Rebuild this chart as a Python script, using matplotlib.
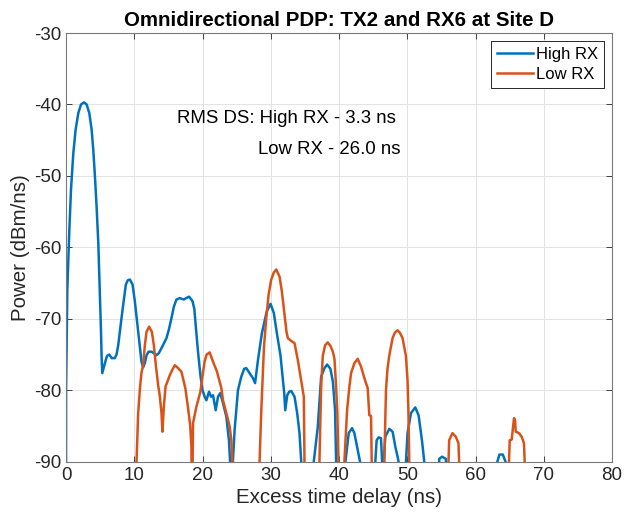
import numpy as np
import matplotlib
matplotlib.use('Agg')
import matplotlib.pyplot as plt

plt.rcParams['font.family'] = ['Liberation Sans', 'DejaVu Sans']
plt.rcParams['axes.unicode_minus'] = False

# Power delay profile samples (delay in ns, power in dBm/ns); -100 marks the noise floor between lobes
high_rx_delay = [0, 0.01, 0.19, 0.49, 0.73, 1.07, 1.41, 1.80, 2.19, 2.63, 3.02, 3.41, 3.75, 3.99, 4.24,
                 4.48, 4.73, 4.97, 5.12, 5.22, 5.31, 5.70, 6.0, 6.33, 6.7, 7.16, 7.4, 7.65, 8.0, 8.38,
                 8.77, 9.05, 9.36, 9.75, 10.09, 10.58, 11.06, 11.3, 11.55, 11.8, 12.1, 12.53, 13.0, 13.26,
                 13.6, 13.99, 14.35, 14.72, 15.1, 15.45, 15.8, 16.18, 16.67, 17.25, 17.6, 18.03, 18.52,
                 18.8, 19.0, 19.34, 19.69, 20.0, 20.32, 20.57, 20.95, 21.25, 21.54, 21.93, 22.27, 22.6,
                 23.0, 23.49, 23.87, 24.07, 24.2,
                 24.35, 24.46, 24.7, 25.19, 25.68, 26.1, 26.41, 26.9, 27.38, 27.7, 28.12, 28.7, 29.4,
                 29.97, 30.45, 30.94, 31.42, 31.75, 31.98, 32.12, 32.41, 32.7, 33.0, 33.48, 33.87, 34.21,
                 34.45, 34.55,
                 36.2, 36.3, 36.89, 37.38, 37.87, 38.25, 38.74, 39.1, 39.42, 39.57, 39.65,
                 40.85, 40.94, 41.42, 41.91, 42.25, 42.74, 43.08, 43.15,
                 45.25, 45.32, 45.51, 45.8, 46.15, 46.3, 46.5, 46.78, 47.37, 47.85, 48.25, 48.58, 48.83, 48.9,
                 49.75, 49.81, 50.04, 50.54, 51.17, 51.66, 52.15, 52.49, 52.55,
                 54.6, 54.68, 55.1, 55.66, 55.75,
                 63.1, 63.2, 63.5, 64.0, 64.4, 64.5, 80]
high_rx_power = [-100, -80, -65.9, -57.5, -51.9, -46.8, -43.5, -41.2, -40.0, -39.7, -40.0, -41.2, -43.5, -46.3, -50.1,
                 -54.3, -59.4, -66.9, -71.6, -75.5, -77.6, -76.2, -75.2, -75.0, -75.5, -75.5, -75.0, -73.7, -70.9, -68.0,
                 -65.2, -64.6, -64.5, -65.2, -67.6, -71.8, -76.0, -76.8, -76.2, -75.1, -74.6, -74.6, -74.9, -75.1,
                 -74.8, -74.1, -73.4, -72.7, -71.4, -69.9, -68.3, -67.3, -67.1, -67.3, -67.1, -66.9, -67.5,
                 -68.6, -70.9, -74.6, -77.9, -80.0, -80.9, -81.4, -80.2, -80.9, -80.7, -82.8, -80.9, -80.4,
                 -81.8, -83.7, -87.0, -90.5, -100,
                 -100, -89.8, -85.6, -80.0, -78.1, -77.0, -76.9, -77.6, -78.3, -79.0, -75.8, -72.0, -69.0,
                 -67.9, -69.2, -72.3, -75.1, -78.2, -80.5, -82.8, -80.7, -80.2, -80.1, -80.9, -83.2, -86.0,
                 -89.8, -100,
                 -100, -90, -85.1, -78.1, -76.9, -76.4, -77.0, -78.8, -82.8, -89.8, -100,
                 -100, -90, -86.0, -85.3, -86.0, -88.4, -90, -100,
                 -100, -90, -87.0, -86.6, -86.7, -89.8, -91, -86.5, -85.4, -85.8, -87.9, -89.3, -90.5, -100,
                 -100, -90, -86.0, -83.2, -82.4, -83.5, -87.0, -90, -100,
                 -100, -89.6, -89.3, -89.6, -100,
                 -100, -90, -89.0, -89.0, -90, -100, -100]

low_rx_delay = [0, 10.25, 10.33, 10.57, 10.85, 11.06, 11.3, 11.55, 11.8, 12.18, 12.57, 12.87, 13.16, 13.5,
                13.74, 13.99, 14.13, 14.33, 14.58, 15.2, 15.54, 15.94, 16.42, 16.91, 17.25, 17.5, 17.88,
                18.18, 18.38, 18.45, 18.55, 18.61, 19.1, 19.69, 20.0, 20.3, 20.6, 21.05, 21.54, 22.12,
                22.5, 22.76, 23.0, 23.49, 23.98, 24.22, 24.36, 24.45,
                28.3, 28.36, 28.61, 29.0, 29.34, 29.68, 30.07, 30.45, 30.8, 31.29, 31.63, 32.02, 32.3,
                32.5, 33.0, 33.48, 33.97, 34.45, 34.84, 34.94, 35.0,
                37.05, 37.13, 37.38, 37.62, 37.96, 38.35, 38.75, 39.1, 39.33, 39.57, 39.75, 39.91, 40.0,
                40.7, 40.79, 41.18, 41.52, 41.77, 42.25, 42.74, 43.23, 43.71, 44.2, 44.44, 44.69, 44.79, 44.85,
                46.55, 46.64, 46.88, 47.1, 47.37, 47.85, 48.2, 48.58, 48.95, 49.31, 49.8, 50.04, 50.19,
                50.29, 50.35,
                55.95, 56.04, 56.14, 56.62, 57.11, 57.5, 57.6, 57.7,
                64.85, 64.91, 65.01, 65.3, 65.5, 65.64, 65.79, 65.89, 66.37, 66.76, 67.1, 67.2, 67.3, 80]
low_rx_power = [-100, -100, -90, -83.2, -79.5, -77.5, -76.5, -73.7, -71.8, -71.1, -71.8, -73.7, -76.5, -79.3,
                -80.8, -83.2, -85.8, -82.3, -79.5, -77.9, -77.2, -76.5, -76.9, -77.4, -78.8, -79.8, -82.5,
                -84.8, -88, -100, -90, -84.6, -82.3, -80.2, -78.0, -76.0, -75.0, -74.7, -76.0, -77.4,
                -78.8, -79.7, -81.4, -83.2, -85.1, -87.0, -90, -100,
                -100, -90, -82.8, -74.0, -69.9, -66.6, -64.5, -63.5, -63.1, -64.1, -66.2, -69.5, -71.8,
                -72.7, -73.1, -73.4, -75.8, -78.6, -80.9, -90, -100,
                -100, -90, -79.5, -75.2, -73.7, -73.3, -73.8, -74.6, -75.6, -79.5, -83, -90, -100,
                -100, -90, -82.8, -79.5, -77.6, -76.2, -75.6, -76.7, -78.3, -79.7, -83.5, -83.6, -90, -100,
                -100, -90, -80.0, -77.0, -75.1, -72.7, -71.9, -71.6, -72.0, -72.7, -75.2, -78.6, -83.7,
                -90, -100,
                -100, -90, -87.0, -86.0, -86.5, -87.4, -90, -100,
                -100, -90, -87.0, -86.9, -85.1, -83.9, -84.2, -85.8, -86.0, -86.5, -87.4, -90, -100, -100]

rms_high = 3.3
rms_low = 26.0

fig = plt.figure(figsize=(6.24, 5.23), dpi=100)
ax = fig.add_axes([0.1058, 0.1172, 0.875, 0.8196])

ax.plot(high_rx_delay, high_rx_power, color='#0072BD', lw=1.8, label='High RX')
ax.plot(low_rx_delay, low_rx_power, color='#D95319', lw=1.8, label='Low RX')

ax.set_xlim(0, 80)
ax.set_ylim(-90, -30)
ax.set_xticks(np.arange(0, 81, 10))
ax.set_yticks(np.arange(-90, -29, 10))

ax.grid(True, color='#e3e3e3', lw=0.7)
ax.set_axisbelow(True)
ax.tick_params(direction='in', top=True, right=True, length=4, width=0.6,
               colors='#262626', labelsize=13.5)
for s in ax.spines.values():
    s.set_color('#7a7a7a')
    s.set_linewidth(0.8)

ax.set_xlabel('Excess time delay (ns)', fontsize=14.8, color='#262626', labelpad=3)
ax.set_ylabel('Power (dBm/ns)', fontsize=14.8, color='#262626', labelpad=3)
ax.set_title('Omnidirectional PDP: TX2 and RX6 at Site D', fontsize=14.8, fontweight='bold', pad=5)

ax.text(16.2, -41.9, f'RMS DS: High RX - {rms_high:.1f} ns', fontsize=13.4, va='center', ha='left')
ax.text(28.1, -46.3, f'Low RX - {rms_low:.1f} ns', fontsize=13.4, va='center', ha='left')

leg = ax.legend(loc='upper right', fontsize=12, handlelength=2.2, handletextpad=0.15,
                borderaxespad=0.5, labelspacing=0.3, borderpad=0.35, fancybox=False,
                framealpha=1, edgecolor='#262626')
leg.get_frame().set_linewidth(0.7)

plt.savefig('out.png', dpi=100)
